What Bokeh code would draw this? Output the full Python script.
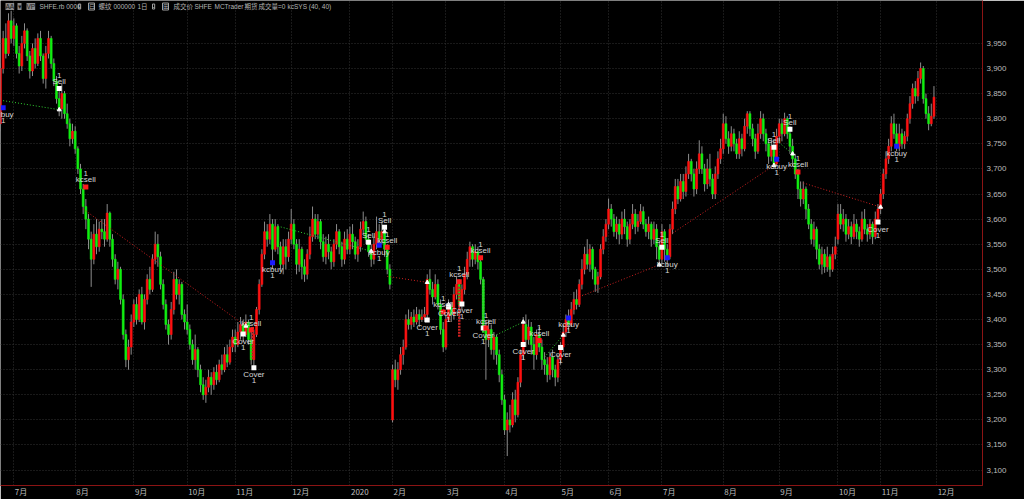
from bokeh.plotting import figure
from bokeh.models import ColumnDataSource, Range1d, FixedTicker, NumeralTickFormatter, Label
from bokeh.core.properties import value
from bokeh.embed import file_html
from bokeh.resources import INLINE

# ---------------- data (daily bars, SHFE rb, late Jun 2019 .. Nov 2020) ----------------
opens = [
    3790,3900,3960,3930,3995,3960,3985,3930,3905,3950,
    3975,3925,3895,3940,3910,3960,3925,3880,3930,3960,
    3910,3875,3840,3820,3850,3810,3790,3760,3775,3740,
    3700,3660,3625,3600,3560,3520,3570,3545,3580,3575,
    3560,3612,3560,3520,3480,3500,3440,3370,3320,3345,
    3395,3430,3400,3450,3395,3440,3480,3460,3520,3550,
    3525,3470,3430,3390,3370,3420,3480,3450,3470,3410,
    3395,3380,3350,3320,3340,3300,3270,3250,3265,3285,
    3270,3295,3280,3310,3300,3330,3315,3345,3365,3350,
    3375,3390,3370,3395,3360,3320,3370,3420,3470,3530,
    3575,3560,3590,3540,3585,3545,3510,3545,3525,3560,
    3590,3550,3510,3540,3505,3490,3530,3565,3600,3570,
    3595,3555,3525,3550,3535,3515,3550,3575,3545,3520,
    3560,3540,3570,3555,3530,3545,3580,3595,3560,3535,
    3520,3550,3575,3560,3575,3540,3500,3200,3300,3280,
    3300,3330,3345,3400,3390,3405,3395,3410,3400,3405,
    3410,3480,3460,3445,3470,3430,3380,3345,3400,3425,
    3410,3450,3470,3430,3460,3490,3520,3545,3520,3535,
    3515,3480,3385,3360,3380,3340,3365,3330,3290,3240,
    3180,3200,3190,3240,3210,3275,3330,3390,3360,3385,
    3350,3330,3370,3345,3320,3310,3290,3325,3300,3285,
    3320,3345,3375,3400,3390,3420,3440,3430,3470,3500,
    3530,3510,3540,3500,3470,3485,3540,3565,3590,3620,
    3600,3575,3590,3570,3600,3585,3560,3590,3610,3585,
    3595,3615,3590,3575,3590,3560,3580,3545,3520,3575,
    3540,3525,3580,3620,3665,3640,3675,3655,3690,3715,
    3690,3660,3700,3730,3700,3670,3700,3680,3650,3690,
    3720,3740,3790,3760,3745,3770,3750,3730,3760,3740,
    3785,3810,3780,3760,3735,3770,3800,3770,3750,3725,
    3745,3710,3765,3790,3770,3800,3770,3745,3720,3690,
    3660,3640,3660,3620,3590,3560,3580,3540,3510,3530,
    3505,3525,3500,3530,3560,3610,3590,3600,3570,3585,
    3565,3590,3575,3560,3600,3580,3570,3590,3565,3600,
    3620,3650,3690,3720,3745,3790,3770,3745,3770,3750,
    3765,3800,3830,3860,3845,3880,3900,3840,3810,3790,
    3805,
]
highs = [
    3910,3975,3990,4010,4015,4000,3990,3945,3965,3990,
    3980,3935,3950,3960,3970,3975,3930,3945,3975,3965,
    3920,3885,3855,3870,3855,3830,3800,3790,3785,3745,
    3710,3670,3640,3610,3575,3590,3600,3595,3600,3600,
    3630,3615,3570,3530,3515,3505,3450,3380,3360,3410,
    3440,3445,3460,3465,3450,3490,3505,3530,3575,3570,
    3535,3480,3440,3400,3435,3495,3500,3480,3475,3420,
    3430,3390,3360,3370,3345,3310,3285,3280,3300,3295,
    3305,3310,3320,3330,3345,3350,3360,3380,3380,3395,
    3405,3400,3410,3400,3385,3380,3425,3480,3540,3595,
    3590,3610,3600,3600,3590,3555,3560,3560,3575,3620,
    3600,3560,3560,3545,3520,3540,3585,3625,3610,3610,
    3600,3570,3565,3570,3545,3560,3590,3580,3555,3575,
    3580,3585,3590,3565,3560,3595,3615,3605,3570,3550,
    3565,3605,3590,3595,3585,3550,3510,3310,3320,3315,
    3345,3360,3410,3420,3415,3420,3425,3420,3420,3425,
    3490,3500,3475,3490,3480,3440,3395,3410,3440,3435,
    3465,3485,3480,3470,3505,3535,3555,3550,3550,3545,
    3525,3485,3395,3400,3390,3375,3370,3340,3300,3250,
    3215,3230,3255,3260,3285,3340,3405,3410,3400,3395,
    3365,3380,3385,3360,3335,3325,3335,3340,3310,3330,
    3355,3390,3410,3420,3435,3455,3460,3480,3520,3545,
    3560,3550,3545,3505,3495,3550,3580,3600,3641,3630,
    3610,3605,3600,3615,3620,3595,3600,3630,3620,3610,
    3630,3625,3600,3605,3595,3595,3590,3555,3590,3580,
    3550,3590,3635,3680,3680,3690,3690,3705,3730,3720,
    3700,3715,3757,3745,3710,3720,3730,3690,3705,3735,
    3760,3810,3805,3775,3785,3780,3760,3775,3770,3800,
    3815,3815,3790,3770,3790,3815,3810,3780,3760,3760,
    3755,3780,3800,3800,3812,3805,3785,3760,3730,3700,
    3675,3675,3665,3630,3600,3595,3585,3550,3545,3540,
    3545,3530,3545,3565,3630,3630,3620,3610,3600,3595,
    3610,3600,3585,3615,3620,3590,3600,3595,3615,3630,
    3660,3700,3735,3760,3805,3810,3790,3790,3780,3775,
    3810,3845,3870,3875,3895,3912,3905,3850,3825,3830,
    3865,
]
lows = [
    3775,3890,3920,3925,3950,3945,3920,3890,3895,3940,
    3915,3880,3885,3900,3905,3915,3870,3860,3920,3900,
    3865,3830,3805,3800,3800,3780,3745,3750,3730,3690,
    3650,3610,3580,3540,3465,3510,3530,3535,3560,3545,
    3555,3545,3505,3470,3460,3430,3360,3305,3300,3330,
    3385,3390,3395,3390,3380,3430,3450,3455,3510,3505,
    3460,3420,3380,3350,3360,3410,3440,3430,3400,3380,
    3370,3340,3310,3300,3285,3255,3240,3234,3255,3250,
    3260,3270,3275,3290,3295,3305,3310,3335,3335,3345,
    3360,3355,3365,3350,3310,3304,3365,3410,3465,3520,
    3545,3550,3500,3535,3530,3500,3490,3500,3515,3550,
    3540,3490,3495,3480,3475,3480,3520,3555,3560,3560,
    3540,3515,3510,3520,3500,3505,3540,3530,3505,3510,
    3530,3530,3540,3520,3515,3535,3570,3550,3525,3505,
    3510,3540,3545,3550,3525,3490,3460,3195,3265,3260,
    3290,3310,3340,3380,3380,3385,3390,3385,3395,3395,
    3400,3450,3430,3440,3420,3370,3335,3340,3395,3395,
    3400,3440,3400,3420,3450,3480,3505,3505,3510,3500,
    3470,3375,3280,3345,3330,3320,3310,3275,3230,3170,
    3128,3175,3185,3195,3205,3265,3320,3345,3350,3330,
    3300,3320,3335,3300,3290,3275,3280,3285,3267,3275,
    3310,3335,3365,3380,3385,3410,3420,3425,3460,3490,
    3500,3495,3480,3455,3453,3480,3530,3555,3580,3585,
    3565,3560,3550,3560,3570,3545,3550,3580,3570,3575,
    3590,3580,3565,3560,3545,3550,3520,3505,3510,3515,
    3505,3520,3570,3610,3630,3635,3640,3645,3680,3675,
    3645,3650,3690,3690,3655,3660,3665,3640,3640,3680,
    3710,3730,3750,3730,3735,3735,3720,3720,3725,3735,
    3770,3765,3745,3720,3730,3760,3755,3735,3710,3715,
    3700,3705,3755,3755,3765,3760,3730,3705,3680,3640,
    3625,3630,3600,3580,3550,3545,3520,3500,3490,3493,
    3495,3485,3495,3520,3550,3580,3575,3555,3560,3550,
    3560,3560,3545,3555,3570,3555,3560,3550,3560,3590,
    3610,3640,3680,3710,3735,3760,3735,3735,3740,3740,
    3755,3790,3820,3830,3835,3870,3830,3800,3777,3785,
    3800,
]
closes = [
    3900,3960,3930,3995,3960,3985,3930,3905,3950,3975,
    3925,3895,3940,3910,3960,3925,3880,3930,3960,3910,
    3875,3840,3820,3850,3810,3790,3760,3775,3740,3700,
    3660,3625,3600,3560,3520,3570,3545,3580,3575,3560,
    3612,3560,3520,3480,3500,3440,3370,3320,3345,3395,
    3430,3400,3450,3395,3440,3480,3460,3520,3550,3525,
    3470,3430,3390,3370,3420,3480,3450,3470,3410,3395,
    3380,3350,3320,3340,3300,3270,3250,3265,3285,3270,
    3295,3280,3310,3300,3330,3315,3345,3365,3350,3375,
    3390,3370,3395,3360,3320,3370,3420,3470,3530,3575,
    3560,3590,3540,3585,3545,3510,3545,3525,3560,3590,
    3550,3510,3540,3505,3490,3530,3565,3600,3570,3595,
    3555,3525,3550,3535,3515,3550,3575,3545,3520,3560,
    3540,3570,3555,3530,3545,3580,3595,3560,3535,3520,
    3550,3575,3560,3575,3540,3500,3470,3300,3280,3300,
    3330,3345,3400,3390,3405,3395,3410,3400,3405,3410,
    3480,3460,3445,3470,3430,3380,3345,3400,3425,3410,
    3450,3470,3430,3460,3490,3520,3545,3520,3535,3515,
    3480,3385,3360,3380,3340,3365,3330,3290,3240,3180,
    3200,3190,3240,3210,3275,3330,3390,3360,3385,3350,
    3330,3370,3345,3320,3310,3290,3325,3300,3285,3320,
    3345,3375,3400,3390,3420,3440,3430,3470,3500,3530,
    3510,3540,3500,3470,3485,3540,3565,3590,3620,3600,
    3575,3590,3570,3600,3585,3560,3590,3610,3585,3595,
    3615,3590,3575,3590,3560,3580,3545,3520,3575,3540,
    3525,3580,3620,3665,3640,3675,3655,3690,3715,3690,
    3660,3700,3730,3700,3670,3700,3680,3650,3690,3720,
    3740,3790,3760,3745,3770,3750,3730,3760,3740,3785,
    3810,3780,3760,3735,3770,3800,3770,3750,3725,3745,
    3710,3765,3790,3770,3800,3770,3745,3720,3690,3660,
    3640,3660,3620,3590,3560,3580,3540,3510,3530,3505,
    3525,3500,3530,3545,3610,3590,3600,3570,3585,3565,
    3590,3575,3560,3600,3580,3570,3590,3565,3600,3620,
    3650,3690,3720,3745,3790,3770,3745,3770,3750,3765,
    3800,3830,3860,3845,3880,3900,3840,3810,3790,3805,
    3843,
]

month_labels = ["7月", "8月", "9月", "10月", "11月", "12月", "2020", "2月", "3月",
                "4月", "5月", "6月", "7月", "8月", "9月", "10月", "11月", "12月"]
month_start_bars = [5, 28, 50, 70, 88, 109, 131, 147, 167, 189, 210, 228, 248, 271, 292, 314, 330, 351]
price_ticks = [3100, 3150, 3200, 3250, 3300, 3350, 3400, 3450, 3500, 3550, 3600,
               3650, 3700, 3750, 3800, 3850, 3900, 3950]
last_price = 3843

# strategy signals (kcSYS)
trade_kind = ["kcbuy", "Sell", "kcsell", "Cover", "kcsell", "Cover", "kcbuy", "Sell", "kcbuy", "Sell",
              "kcsell", "Cover", "kcsell", "Cover", "kcsell", "Cover", "kcsell", "Cover", "kcsell", "Cover",
              "kcsell", "Cover", "kcbuy", "Sell", "kcbuy", "Sell", "kcbuy", "Sell", "kcsell", "Cover", "kcbuy"]
trade_bar = [1, 22, 32, 91, 94, 95, 102, 138, 142, 144,
             145, 160, 166, 168, 172, 173, 180, 181, 182, 196,
             202, 210, 213, 248, 250, 290, 291, 296, 299, 329, 336]
trade_price = [3822, 3860, 3664, 3371, 3379, 3304, 3513, 3554, 3548, 3584,
               3544, 3399, 3415, 3425, 3475, 3431, 3523, 3383, 3383, 3350,
               3358, 3344, 3403, 3544, 3523, 3743, 3719, 3779, 3694, 3594, 3745]
trade_qty = [1] * 31

# entry -> exit connection lines
link_bar0 = [1, 31, 104, 142, 145, 166, 185, 204, 217, 252, 292, 301]
link_price0 = [3836, 3620, 3586, 3560, 3486, 3420, 3367, 3325, 3445, 3572, 3752, 3672]
link_bar1 = [22, 92, 139, 144, 160, 168, 196, 211, 247, 290, 297, 330]
link_price1 = [3818, 3387, 3536, 3575, 3474, 3430, 3395, 3369, 3509, 3707, 3730, 3624]
link_kind = ["g", "r", "g", "g", "r", "r", "g", "g", "r", "r", "g", "r"]
# same-bar trades
vlink_bar = [94.6, 172, 181]
vlink_price0 = [3385, 3465, 3479]
vlink_price1 = [3320, 3365, 3373]
vlink_kind = ["r", "r", "g"]

# ---------------- figure ----------------
X_END = 368.2
PX_PER_BAR = 982 / X_END
UP, DOWN = "#ff1010", "#10f010"
LINK_COL = {"g": "#30d030", "r": "#d02020"}
MARK_COL = {"kcbuy": "#1a1aff", "kcsell": "#ff1a1a", "Sell": "#ffffff", "Cover": "#ffffff"}

p = figure(width=1024, height=499, x_range=Range1d(0, X_END), y_range=Range1d(3069.3, 4035.5),
           output_backend="svg", toolbar_location=None, y_axis_location="right",
           background_fill_color="#000000", border_fill_color="#000000",
           min_border_left=0, min_border_top=0, min_border_bottom=0, min_border_right=42)
p.outline_line_color = None

# grid
p.xgrid.ticker = FixedTicker(ticks=month_start_bars)
p.ygrid.ticker = FixedTicker(ticks=price_ticks)
for g in (p.xgrid, p.ygrid):
    g.grid_line_color = "#333333"
    g.grid_line_dash = "1 2"
    g.grid_line_width = 1

# y axis (right)
p.yaxis.ticker = FixedTicker(ticks=price_ticks)
p.yaxis.formatter = NumeralTickFormatter(format="0,0")
p.yaxis.axis_line_color = "#8b1414"
p.yaxis.major_tick_line_color = None
p.yaxis.minor_tick_line_color = None
p.yaxis.major_tick_out = 0
p.yaxis.major_tick_in = 0
p.yaxis.minor_tick_out = 0
p.yaxis.major_label_text_color = "#bcbcbc"
p.yaxis.major_label_text_font = "Liberation Sans"
p.yaxis.major_label_text_font_size = "8px"
p.yaxis.major_label_standoff = 4

# x axis: month labels placed just right of month boundary
def label_width_px(s):
    return sum(4.5 if ch.isdigit() else 8 for ch in s)

xtick_pos = [round(b + (1 + label_width_px(s) / 2) / PX_PER_BAR, 3)
             for b, s in zip(month_start_bars, month_labels)]
p.xaxis.ticker = FixedTicker(ticks=xtick_pos)
p.xaxis.major_label_overrides = {t: s for t, s in zip(xtick_pos, month_labels)}
p.xaxis.axis_line_color = "#8b1414"
p.xaxis.major_tick_line_color = None
p.xaxis.minor_tick_line_color = None
p.xaxis.major_tick_out = 0
p.xaxis.major_tick_in = 0
p.xaxis.minor_tick_out = 0
p.xaxis.major_label_text_color = "#bcbcbc"
p.xaxis.major_label_text_font = "Noto Sans CJK SC"
p.xaxis.major_label_text_font_size = "8px"
p.xaxis.major_label_standoff = 0

# candles
n = len(closes)
src = ColumnDataSource(dict(
    x=list(range(n)), o=opens, h=highs, l=lows, c=closes,
    top=[max(a, b) for a, b in zip(opens, closes)],
    bot=[min(a, b) for a, b in zip(opens, closes)],
    col=[UP if c >= o else DOWN for o, c in zip(opens, closes)],
))
p.segment(x0="x", y0="l", x1="x", y1="h", source=src, line_color="#8c8c8c", line_width=1)
p.vbar(x="x", width=0.72, top="top", bottom="bot", source=src,
       fill_color="col", line_color="col", line_width=0.6)

# trade links
p.segment(x0=link_bar0, y0=link_price0, x1=link_bar1, y1=link_price1,
          line_color=[LINK_COL[k] for k in link_kind], line_width=1, line_dash="1 2")
p.segment(x0=vlink_bar, y0=vlink_price0, x1=vlink_bar, y1=vlink_price1,
          line_color=[LINK_COL[k] for k in vlink_kind], line_width=2.5, line_dash="2 1")
p.scatter(x=link_bar1, y=link_price1, marker="triangle", size=4, color="#ffffff")

# trade markers
p.scatter(x=trade_bar, y=trade_price, marker="square", size=5,
          fill_color=[MARK_COL[k] for k in trade_kind], line_color=None)

tx, ty, tt, toff = [], [], [], []
for k, b, pr, q in zip(trade_kind, trade_bar, trade_price, trade_qty):
    above = k in ("Sell", "kcsell")
    tx += [b, b]
    ty += [pr, pr]
    tt += [k, str(q)]
    toff += ([-7, -13] if above else [7, 13])
p.text(x=tx, y=ty, text=tt, y_offset=toff, text_align="center", text_baseline="middle",
       text_font=value("Liberation Sans"), text_font_size="8px", text_color="#d6d6d6")

# ---------------- chrome (price tag, header bar) ----------------
def xb(px):
    return px / PX_PER_BAR

p.add_layout(Label(x=xb(984), y=last_price,
                   text="\u00a03,843\u00a0\u00a0\u00a0\u00a0\u00a0\u00a0\u00a0\u00a0",
                   text_baseline="middle", text_align="left", text_font_size="8px",
                   text_font="Liberation Sans", text_color="#c8ffc8",
                   background_fill_color="#00f000"))
p.add_layout(Label(x=xb(1008), y=4015.6, text="▮←", text_baseline="middle", text_align="left",
                   text_font="DejaVu Sans", text_font_size="7px", text_color="#c8c8c8"))

HY = 4023.5
FONT = "Liberation Sans, Noto Sans CJK SC"
header = [("AA", 5, "fill"), ("▾", 17, "fill"), ("VP", 26, "fill"),
          ("SHFE.rb 0000", 39, None), ("-", 78, "box"), ("⊟", 88, "box"),
          ("螺纹", 98, None), ("000000", 113, None), ("1日", 137, None),
          ("-", 152, "box"), ("⊞", 162, "box"),
          ("成交价", 173, None), ("SHFE", 194, None), ("MCTrader", 214, None), ("期货", 244, None),
          ("成交量=0", 258, None), ("kcSYS (40, 40)", 287, None)]
for txt, px, style in header:
    p.add_layout(Label(x=xb(px), y=HY, text=txt, text_baseline="middle", text_align="left",
                       text_font=FONT, text_font_size="6.5px",
                       text_color="#1a1a1a" if style == "fill" else "#b4b4b4",
                       background_fill_color="#8a8a8a" if style == "fill" else None,
                       border_line_color="#a0a0a0" if style == "box" else None))

open("out.html", "w").write(file_html(p, INLINE))
